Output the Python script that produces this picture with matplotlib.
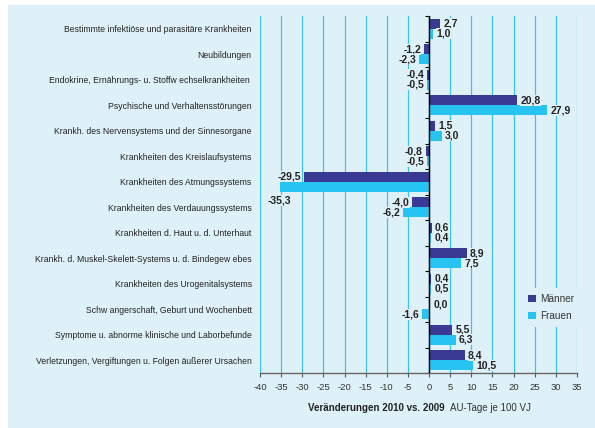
import matplotlib
matplotlib.use("Agg")
import matplotlib.pyplot as plt
from matplotlib.patches import Rectangle
import numpy as np

categories = [
    "Bestimmte infektiöse und parasitäre Krankheiten",
    "Neubildungen",
    "Endokrine, Ernährungs- u. Stoffw echselkrankheiten ",
    "Psychische und Verhaltensstörungen",
    "Krankh. des Nervensystems und der Sinnesorgane",
    "Krankheiten des Kreislaufsystems",
    "Krankheiten des Atmungssystems",
    "Krankheiten des Verdauungssystems",
    "Krankheiten d. Haut u. d. Unterhaut",
    "Krankh. d. Muskel-Skelett-Systems u. d. Bindegew ebes",
    "Krankheiten des Urogenitalsystems",
    "Schw angerschaft, Geburt und Wochenbett",
    "Symptome u. abnorme klinische und Laborbefunde",
    "Verletzungen, Vergiftungen u. Folgen äußerer Ursachen",
]
maenner = [2.7, -1.2, -0.4, 20.8, 1.5, -0.8, -29.5, -4.0, 0.6, 8.9, 0.4, 0.0, 5.5, 8.4]
frauen = [1.0, -2.3, -0.5, 27.9, 3.0, -0.5, -35.3, -6.2, 0.4, 7.5, 0.5, -1.6, 6.3, 10.5]
xticks = list(range(-40, 40, 5))
series_names = ["Männer", "Frauen"]

BG = "#dff1f8"
NAVY = "#3a3a94"
CYAN = "#27c4f2"
GRID = "#3cc3ec"
TXT = "#222222"

plt.rcParams["font.family"] = ["Liberation Sans", "DejaVu Sans"]

fig = plt.figure(figsize=(5.95, 4.28), dpi=100)
fig.patch.set_facecolor(BG)
# white strips at top and left
fig.patches.append(Rectangle((0, 0), 8 / 595, 1, transform=fig.transFigure,
                             facecolor="white", edgecolor="none", zorder=-10))
fig.patches.append(Rectangle((0, 1 - 5 / 428), 1, 5 / 428, transform=fig.transFigure,
                             facecolor="white", edgecolor="none", zorder=-10))

ax = fig.add_axes([260 / 595, 1 - 373 / 428, (577 - 260) / 595, (373 - 16) / 428])
ax.set_facecolor(BG)
ax.patch.set_alpha(0)

y = np.arange(len(categories))
h = 0.4
ax.barh(y - h / 2, maenner, height=h, color=NAVY, label=series_names[0], zorder=3)
ax.barh(y + h / 2, frauen, height=h, color=CYAN, label=series_names[1], zorder=3)

ax.set_xlim(-40, 35)
ax.set_ylim(len(categories) - 0.5, -0.5)
ax.set_xticks(xticks)
ax.set_xticklabels([str(t) for t in xticks], fontsize=6.8, color="#333333")
ax.tick_params(axis="x", length=3, width=0.8, color="#555555", pad=4)
ax.xaxis.grid(True, color=GRID, linewidth=0.9, zorder=0)
ax.set_axisbelow(True)

ax.set_yticks(y)
ax.set_yticklabels(categories, fontsize=6.2, color=TXT)
ax.tick_params(axis="y", length=0, pad=6)

for s in ["top", "right", "left"]:
    ax.spines[s].set_visible(False)
ax.spines["bottom"].set_color("#666666")
ax.spines["bottom"].set_linewidth(1.0)

# zero axis with ticks at group boundaries
ax.axvline(0, color="black", linewidth=1.0, zorder=4)
sec = ax.secondary_yaxis(40 / 75)
sec.set_yticks(np.arange(-0.5, len(categories), 1.0))
sec.set_yticklabels([])
sec.tick_params(axis="y", left=True, right=False, length=3, width=0.8,
                color="black", direction="out")
sec.spines["left"].set_visible(False)

def fmt(v):
    return f"{v:.1f}".replace(".", ",")

bbox = dict(facecolor=BG, edgecolor="none", pad=0.3)
for vals, off in [(maenner, -h / 2), (frauen, h / 2)]:
    for i, v in enumerate(vals):
        yy = i + off
        if v < -33:
            ax.text(v, yy + 0.55, fmt(v), ha="center", va="center", fontsize=7.5,
                    fontweight="bold", color=TXT, zorder=5, bbox=bbox)
        elif v < 0:
            ax.text(v - 0.7, yy, fmt(v), ha="right", va="center", fontsize=7.5,
                    fontweight="bold", color=TXT, zorder=5, bbox=bbox)
        else:
            ax.text(v + 0.8 if v > 0 else 1.0, yy, fmt(v), ha="left", va="center",
                    fontsize=7.5, fontweight="bold", color=TXT, zorder=5, bbox=bbox)

leg = ax.legend(loc="lower right", bbox_to_anchor=(1.025, 0.115), frameon=True,
                fontsize=7.2, handlelength=0.8, handleheight=0.8,
                handletextpad=0.4, labelspacing=0.7, borderpad=0.6)
leg.get_frame().set_facecolor(BG)
leg.get_frame().set_edgecolor("none")
leg.get_frame().set_alpha(1)
for t in leg.get_texts():
    t.set_color("#333333")

fig.text(445 / 595, 1 - 408 / 428, "Veränderungen 2010 vs. 2009", ha="right",
         va="center", fontsize=7, fontweight="bold", color=TXT)
fig.text(450 / 595, 1 - 408 / 428, "AU-Tage je 100 VJ", ha="left",
         va="center", fontsize=7, color="#333333")

fig.savefig("out.png", dpi=100, facecolor=fig.get_facecolor())
